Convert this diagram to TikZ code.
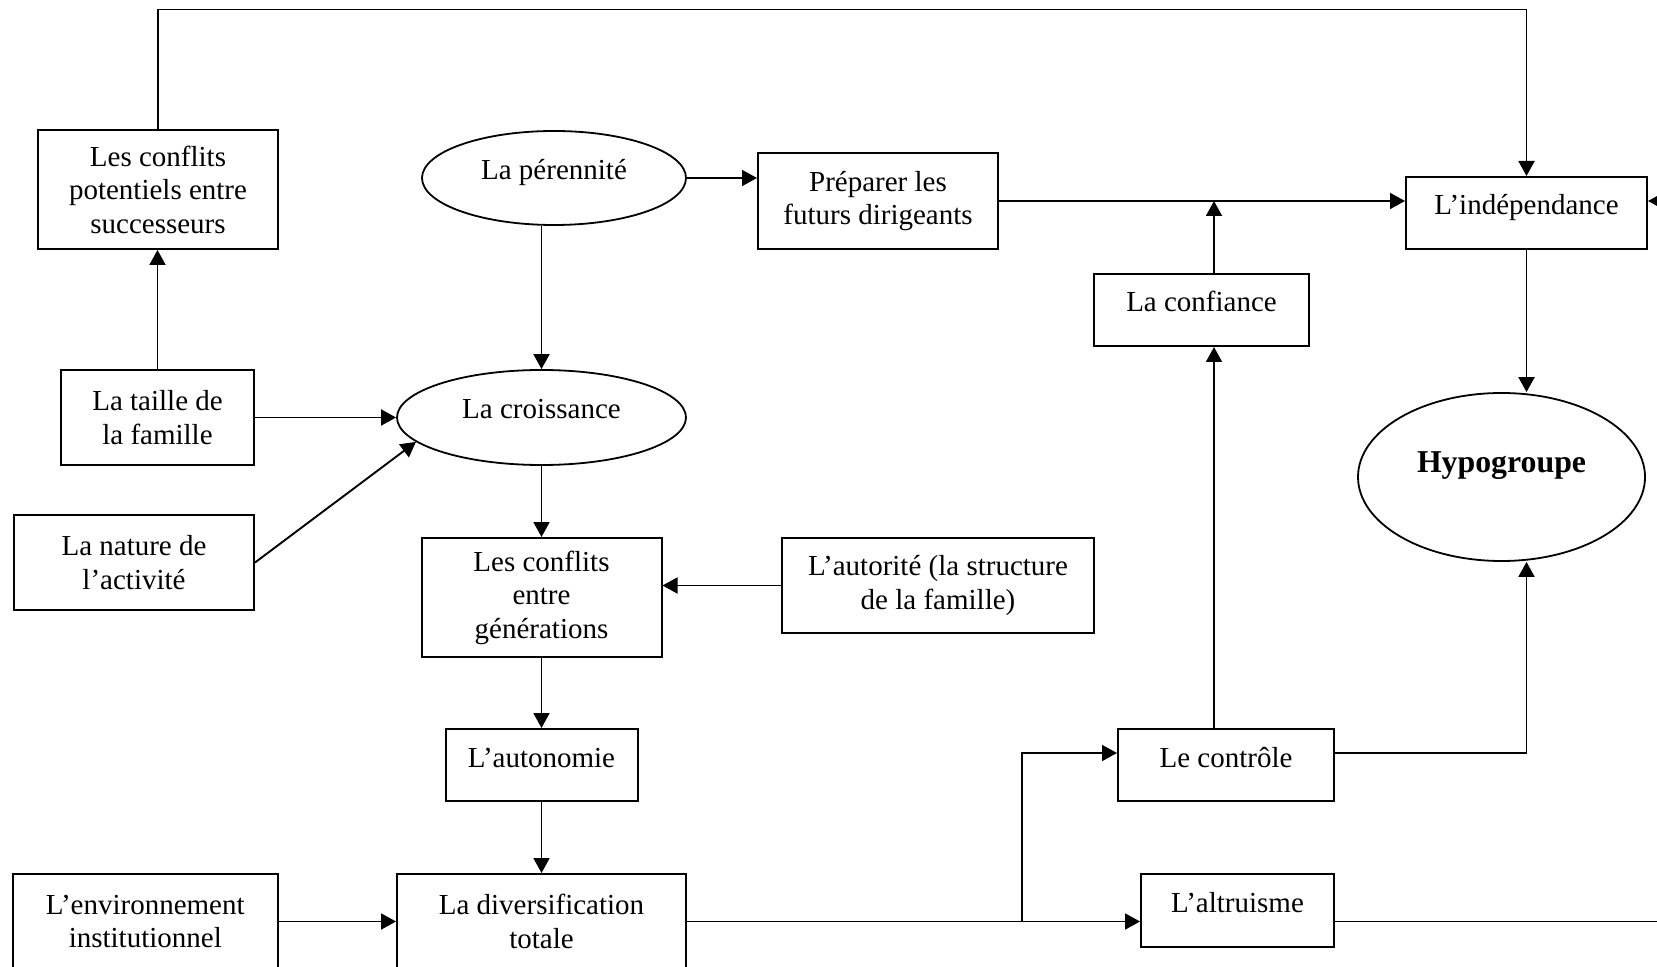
\documentclass[tikz,border=0pt]{standalone}
\usepackage{fontspec}
\setmainfont{Liberation Serif}
\usetikzlibrary{shapes, arrows.meta}

\begin{document}
\begin{tikzpicture}[x=0.5pt, y=-0.5pt, font=\fontsize{14.5}{16.75}\selectfont]
\tikzstyle{factor} = [rectangle, draw=black, line width=1pt, align=center, text centered]
\tikzstyle{single} = [rectangle, draw=black, line width=1pt, text height=0.7em, text depth=0.5em]
\tikzstyle{goal} = [ellipse, draw=black, line width=0.9pt, text height=0.7em, text depth=0.55em]
\tikzstyle{arrow} = [line width=0.95pt, -{Triangle[length=7.5pt, width=8pt]}]
\tikzstyle{line} = [line width=0.95pt]

\useasboundingbox (0,0) rectangle (1657,967);
\clip (0,0) rectangle (1657,967);

\node (cp) [factor, minimum width=120pt, minimum height=59.5pt] at (158,189.5) {Les conflits\\potentiels entre\\successeurs};
\node (per) [goal, minimum width=132pt, minimum height=47pt] at (554,178) {La pérennité};
\node (prep) [factor, minimum width=120pt, minimum height=48pt] at (878,201) {Préparer les\\futurs dirigeants};
\node (ind) [single, minimum width=120.5pt, minimum height=36pt] at (1526.5,213) {L’indépendance};
\node (conf) [single, minimum width=107.5pt, minimum height=36pt] at (1201.5,310) {La confiance};
\node (hypo) [goal, minimum width=143.5pt, minimum height=84pt, text depth=1.1em, font=\fontsize{15.9}{18}\selectfont\bfseries] at (1501.5,477) {Hypogroupe};
\node (taille) [factor, minimum width=96.5pt, minimum height=47.5pt] at (157.5,417.5) {La taille de\\la famille};
\node (croi) [goal, minimum width=144.5pt, minimum height=47.5pt] at (541.5,417.5) {La croissance};
\node (nature) [factor, minimum width=120pt, minimum height=47.5pt] at (134,562.5) {La nature de\\l’activité};
\node (cg) [factor, minimum width=120pt, minimum height=59.5pt] at (541.5,597.5) {Les conflits\\entre\\générations};
\node (aut) [factor, minimum width=156pt, minimum height=47.5pt] at (938,585.5) {L’autorité (la structure\\de la famille)};
\node (auto) [single, minimum width=96pt, minimum height=36pt] at (541.5,765) {L’autonomie};
\node (ctrl) [single, minimum width=108pt, minimum height=36pt] at (1226,765) {Le contrôle};
\node (env) [factor, minimum width=132.5pt, minimum height=47.5pt] at (145.3,921.5) {L’environnement\\institutionnel};
\node (div) [factor, minimum width=144.5pt, minimum height=47.5pt] at (541.5,921.5) {La diversification\\totale};
\node (alt) [single, minimum width=96.5pt, minimum height=36.5pt] at (1237.5,910.5) {L’altruisme};

\coordinate (topline) at (0,9.5);
\coordinate (rin) at (1700,201);
\coordinate (vert) at (1214,0);
\coordinate (branch) at (1022,753);
\coordinate (rout) at (1700,921.5);

\draw [arrow] (cp.north) -- (cp.north |- topline) -| (ind.north);
\draw [arrow] (taille.north) -- (taille.north |- cp.south);
\draw [arrow] (taille.east) -- (croi.west);
\draw [arrow] (nature.east) -- (croi.191);
\draw [arrow] (per.east) -- (per.east -| prep.west);
\draw [arrow] (per.south -| croi.north) -- (croi.north);
\draw [arrow] (prep.east) -- (prep.east -| ind.west);
\draw [arrow] (rin) -- (rin -| ind.east);
\draw [arrow] (vert |- conf.north) -- (vert |- prep.east);
\draw [arrow] (vert |- ctrl.north) -- (vert |- conf.south);
\draw [arrow] (ind.south) -- (ind.south |- hypo.north);
\draw [arrow] (croi.south) -- (cg.north);
\draw [arrow] (aut.west) -- (aut.west -| cg.east);
\draw [arrow] (cg.south) -- (auto.north);
\draw [arrow] (auto.south) -- (div.north);
\draw [arrow] (env.east) -- (div.west);
\draw [arrow] (div.east) -- (div.east -| alt.west);
\draw [arrow] (branch |- div.east) -- (branch) -- (branch -| ctrl.west);
\draw [arrow] (branch -| ctrl.east) -| (ind.south |- hypo.south);
\draw [line] (alt.east |- div.east) -- (rout);

\end{tikzpicture}
\end{document}
